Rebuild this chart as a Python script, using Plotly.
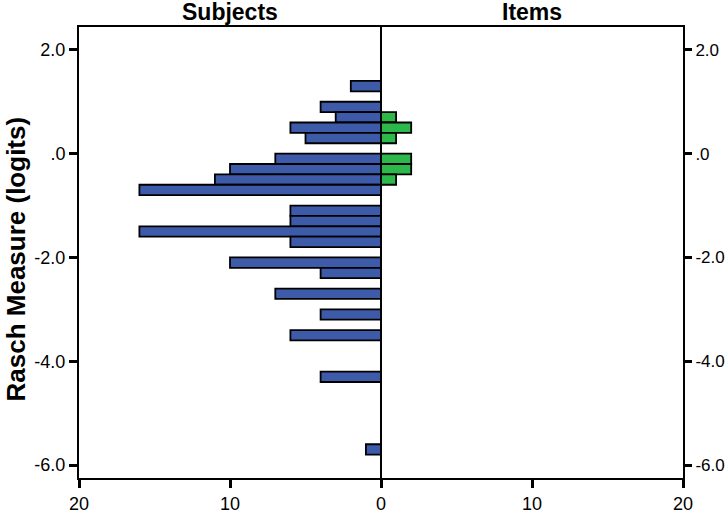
import plotly.graph_objects as go

# Bin centres (logits), 0.2-logit bins
bins = [1.3, 0.9, 0.7, 0.5, 0.3, -0.1, -0.3, -0.5, -0.7, -1.1, -1.3, -1.5, -1.7,
        -2.1, -2.3, -2.7, -3.1, -3.5, -4.3, -5.7]
subjects = [2, 4, 3, 6, 5, 7, 10, 11, 16, 6, 6, 16, 6, 10, 4, 7, 4, 6, 4, 1]

item_bins = [0.7, 0.5, 0.3, -0.1, -0.3, -0.5]
items = [1, 2, 1, 2, 2, 1]

y_tickvals = [2, 0, -2, -4, -6]
y_ticktext = ["2.0", ".0", "-2.0", "-4.0", "-6.0"]
x_tickvals = [-20, -10, 0, 10, 20]
x_ticktext = ["20", "10", "0", "10", "20"]

FONT = "Liberation Sans, Arial, sans-serif"
BLUE = "#3E5BAA"
GREEN = "#2DB84C"
YRANGE = [-6.25, 2.44]

fig = go.Figure()
fig.add_trace(go.Bar(
    y=bins, x=[-v for v in subjects], orientation="h", width=0.2,
    marker=dict(color=BLUE, line=dict(color="black", width=1.8)),
    showlegend=False, hoverinfo="skip"))
fig.add_trace(go.Bar(
    y=item_bins, x=items, orientation="h", width=0.2,
    marker=dict(color=GREEN, line=dict(color="black", width=1.8)),
    showlegend=False, hoverinfo="skip"))
# invisible trace to activate the right-hand axis
fig.add_trace(go.Scatter(x=[0], y=[0], yaxis="y2", mode="markers",
                         marker=dict(opacity=0), showlegend=False, hoverinfo="skip"))

axis_common = dict(ticks="outside", tickwidth=2.5, tickcolor="black",
                   showgrid=False, zeroline=False, showline=True, linecolor="black",
                   linewidth=2, automargin=False)

fig.update_layout(
    width=726, height=516,
    margin=dict(l=79, r=43, t=27, b=38),
    paper_bgcolor="white", plot_bgcolor="white",
    barmode="overlay",
    font=dict(family=FONT, color="black"),
    xaxis=dict(range=[-20, 20], tickvals=x_tickvals, ticktext=x_ticktext,
               mirror=True, ticklen=8,
               tickfont=dict(size=18, family=FONT, color="black"), **axis_common),
    yaxis=dict(range=YRANGE, tickvals=y_tickvals, ticktext=y_ticktext, ticklen=8,
               tickfont=dict(size=18, family=FONT, color="black"), **axis_common),
    yaxis2=dict(range=YRANGE, overlaying="y", side="right", anchor="x",
                tickvals=y_tickvals, ticktext=y_ticktext, ticklen=7,
                tickfont=dict(size=17, family=FONT, color="black"), **axis_common),
    shapes=[dict(type="line", xref="x", yref="paper", x0=0, x1=0, y0=0, y1=1,
                 line=dict(color="black", width=2), layer="above")],
    annotations=[
        dict(text="Subjects", xref="paper", yref="paper", x=0.25, y=1, yshift=15,
             xanchor="center", yanchor="middle", showarrow=False,
             font=dict(size=23, family=FONT, weight="bold")),
        dict(text="Items", xref="paper", yref="paper", x=0.75, y=1, yshift=15,
             xanchor="center", yanchor="middle", showarrow=False,
             font=dict(size=23, family=FONT, weight="bold")),
        dict(text="Rasch Measure (logits)", xref="paper", yref="paper",
             x=0, y=0.5, xshift=-64, yshift=-7, textangle=-90,
             xanchor="center", yanchor="middle", showarrow=False,
             font=dict(size=26, family=FONT, weight="bold")),
    ],
)

fig.write_html("out.html", config={"displayModeBar": False},
               post_script="document.body.style.margin='0';document.body.style.overflow='hidden';")
